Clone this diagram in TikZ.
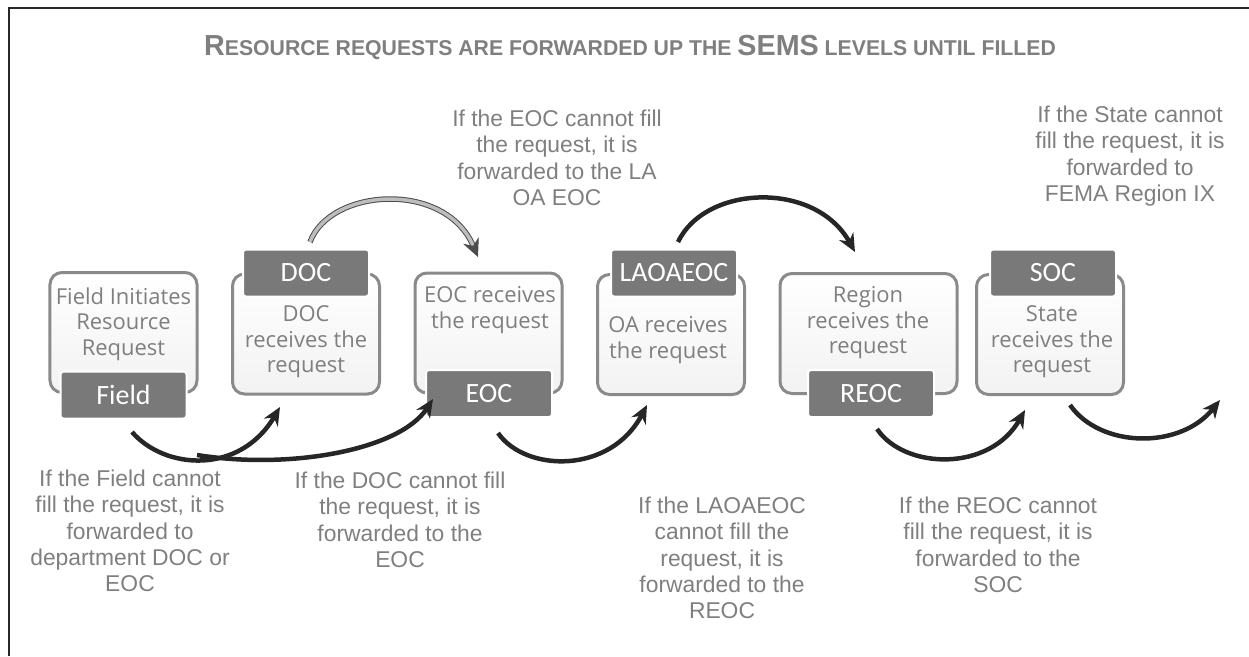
\documentclass[tikz,border=0pt]{standalone}
\usepackage{fontspec}
\setmainfont{Liberation Sans}
\newfontfamily\boxfont{Open Sans}
\newfontfamily\tagfont{Carlito}
\usetikzlibrary{arrows.meta}
\definecolor{textgray}{HTML}{7F7F7F}
\definecolor{linegray}{HTML}{8A8A8A}
\definecolor{tagfill}{HTML}{797979}
\definecolor{arcfill}{HTML}{BDBDBD}
\tikzset{
  frame/.style={rectangle, rounded corners=2.4mm, draw=linegray, line width=0.6mm,
    top color=white, bottom color=black!5, minimum width=29.4mm, minimum height=24mm},
  inside/.style={font=\boxfont\fontsize{12.5}{14.5}\selectfont, text=textgray, align=center},
  tag/.style={rectangle, rounded corners=0.6mm, fill=tagfill, draw=white, line width=0.4mm,
    minimum width=25.2mm, minimum height=9.4mm, text=white, font=\tagfont\fontsize{15.9}{18}\selectfont},
  note/.style={font=\fontsize{13}{15}\selectfont, text=textgray, align=center},
  flow/.style={draw=black!85, line width=0.9mm, -{Stealth[length=3.6mm, width=3.2mm]}},
  grayflow/.style={draw=black!70, line width=0.2mm, double=arcfill, double distance=0.7mm,
    -{Stealth[length=3.6mm, width=3.4mm]}}
}
\begin{document}
\begin{tikzpicture}[x=0.2mm, y=-0.2mm]
\useasboundingbox (0,0) rectangle (1249,656);
\draw[line width=0.5mm, black!85] (9,656) -- (9,8) -- (1249,8);

% title
\node[text=textgray, font=\bfseries] (title) at (630,47)
  {\scalebox{0.99}[1]{{\fontsize{16.5}{18}\selectfont R}\fontsize{12.2}{14}\selectfont ESOURCE REQUESTS ARE FORWARDED UP THE
   {\fontsize{16.5}{18}\selectfont SEMS} LEVELS UNTIL FILLED}};

% boxes
\node[frame] (fieldbox) at (123.5,332.5) {};
\node[inside] (fieldtext) at (123.5,324) {Field Initiates\\Resource\\Request};
\node[tag] (field) at (123.5,395) {Field};

\node[frame] (docbox) at (306,334) {};
\node[inside] (doctext) at (306,342) {DOC\\receives the\\request};
\node[tag] (doc) at (306,273) {DOC};

\node[frame] (eocbox) at (488.5,333) {};
\node[inside] (eoctext) at (490,310) {EOC receives\\the request};
\node[tag] (eoc) at (489,393.5) {EOC};

\node[frame] (oabox) at (671,334.5) {};
\node[inside] (oatext) at (668,340) {OA receives\\the request};
\node[tag] (oa) at (674,273) {LAOAEOC};

\node[frame, minimum width=35.4mm] (regionbox) at (868.5,333.5) {};
\node[inside] (regiontext) at (868,323) {Region\\receives the\\request};
\node[tag] (reoc) at (871,393.5) {REOC};

\node[frame] (socbox) at (1050,334.5) {};
\node[inside] (soctext) at (1052,342) {State\\receives the\\request};
\node[tag] (soc) at (1053,273) {SOC};

% notes
\node[note] (eocnote) at (557,158) {If the EOC cannot fill\\the request, it is\\forwarded to the LA\\OA EOC};
\node[note] (statenote) at (1130,156) {If the State cannot\\fill the request, it is\\forwarded to\\FEMA Region IX};
\node[note] (fieldnote) at (130,531) {If the Field cannot\\fill the request, it is\\forwarded to\\department DOC or\\EOC};
\node[note] (docnote) at (400,520) {If the DOC cannot fill\\the request, it is\\forwarded to the\\EOC};
\node[note] (oanote) at (722,558) {If the LAOAEOC\\cannot fill the\\request, it is\\forwarded to the\\REOC};
\node[note] (reocnote) at (998,545) {If the REOC cannot\\fill the request, it is\\forwarded to the\\SOC};

% arrow ends
\coordinate (f1) at (132,432);   \coordinate (d1) at (280,407);
\coordinate (f2) at (197,455);   \coordinate (e2) at (433,399);
\coordinate (e3) at (498,433);   \coordinate (o3) at (647,405);
\coordinate (d4) at (310,242);   \coordinate (e4) at (478,257);
\coordinate (o5) at (678,242);   \coordinate (r5) at (855,252);
\coordinate (r6) at (877,429);   \coordinate (s6) at (1025,410);
\coordinate (s7) at (1070,405);  \coordinate (x7) at (1220,400);

% arrows
\draw[flow] (f1) .. controls (165,470) and (240,475) .. (d1);
\draw[flow] (f2) .. controls (290,470) and (400,450) .. (e2);
\draw[flow] (e3) .. controls (525,472) and (610,475) .. (o3);
\draw[grayflow] (d4) .. controls (330,188) and (445,180) .. (e4);
\draw[flow] (o5) .. controls (705,185) and (815,180) .. (r5);
\draw[flow] (r6) .. controls (905,470) and (990,472) .. (s6);
\draw[flow] (s7) .. controls (1100,448) and (1180,450) .. (x7);
\end{tikzpicture}
\end{document}
